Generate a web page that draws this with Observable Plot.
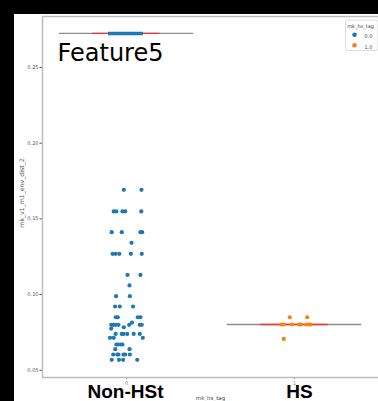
<!DOCTYPE html>
<html><head><meta charset="utf-8">
<script src="https://cdn.jsdelivr.net/npm/d3@7"></script>
<script src="https://cdn.jsdelivr.net/npm/@observablehq/plot@0.6"></script>
<style>
body{margin:0;background:#fff;}
#wrap{width:364px;height:387px;border-left:14px solid #000;border-top:14px solid #000;background:#fff;}
#wrap svg{display:block;}
</style></head><body><div id="wrap"></div>
<script>
const categories = ["Non-HSt", "HS"];
const categoryCodes = [0, 1];
const yTicks = [0.05, 0.10, 0.15, 0.20, 0.25];
const yDomain = [0.0452, 0.2837];
const xDomain = [-0.5, 1.5];
const legendTitle = "mk_hs_tag";
const legendLabels = ["0.0", "1.0"];
const colors = ["#1f77b4", "#ff7f0e"];
const boxCenters = [0.2725, 0.0802];
const whiskerHalf = 0.4;
const boxHalf = 0.2;
const topClusterX = [-0.107, 0.101];
const topClusterY = 0.2725;

const nonHsOffset = [-0.016,0.089,-0.076,-0.061,-0.024,-0.008,0.088,-0.088,-0.028,0.083,0.093,0.030,
  -0.083,-0.065,-0.043,0.026,0.091,0.006,0.083,0.018,-0.062,0.020,-0.068,-0.040,0.039,
  -0.064,-0.052,0.067,0.083,-0.091,-0.077,-0.064,-0.048,-0.016,0.016,0.033,0.079,0.091,
  -0.091,-0.065,-0.028,-0.018,0.004,0.043,0.079,-0.098,-0.076,0.097,-0.060,-0.051,-0.033,-0.024,
  -0.067,0.018,-0.079,-0.055,-0.048,-0.018,-0.008,0.020,-0.088,-0.045,-0.020,0.064];
const nonHsValue = [0.1692,0.1692,0.1549,0.1549,0.1549,0.1549,0.1549,0.1412,0.1412,0.1412,0.1412,0.1342,
  0.1269,0.1269,0.1269,0.1269,0.1269,0.1130,0.1130,0.1060,0.0989,0.0989,0.0921,0.0921,0.0921,
  0.0850,0.0850,0.0850,0.0850,0.0800,0.0800,0.0800,0.0800,0.0784,0.0800,0.0815,0.0800,0.0800,
  0.0775,0.0740,0.0740,0.0740,0.0740,0.0740,0.0740,0.0714,0.0714,0.0714,0.0670,0.0670,0.0670,0.0670,
  0.0639,0.0639,0.0604,0.0604,0.0604,0.0604,0.0604,0.0604,0.0569,0.0569,0.0569,0.0569];
const hsOffset = [-0.028,0.076,-0.079,-0.064,-0.014,0.026,0.036,0.071,0.085,0.095,-0.064];
const hsValue = [0.0850,0.0850,0.0802,0.0802,0.0802,0.0802,0.0802,0.0802,0.0802,0.0802,0.0707];

const points = nonHsOffset.map((o, i) => ({x: categoryCodes[0] + o, y: nonHsValue[i], tag: legendLabels[0]}))
  .concat(hsOffset.map((o, i) => ({x: categoryCodes[1] + o, y: hsValue[i], tag: legendLabels[1]})));

const small = "DejaVu Sans";
const plot = Plot.plot({
  width: 364, height: 387,
  marginLeft: 28, marginRight: 0, marginTop: 2, marginBottom: 24,
  style: {fontFamily: small, background: "white", overflow: "visible"},
  x: {domain: xDomain, axis: null},
  y: {domain: yDomain, axis: null},
  color: {domain: legendLabels, range: colors},
  marks: [
    Plot.axisY({ticks: yTicks, tickFormat: d3.format(".2f"), tickSize: 2.5, tickPadding: 1.5, fontSize: 5, color: "#555", label: null}),
    Plot.axisX({ticks: categoryCodes, tickFormat: d => String(d), tickSize: 2, tickPadding: 1.5, fontSize: 5, color: "#888", label: null}),
    Plot.ruleX([xDomain[0]], {stroke: "#bbb", strokeWidth: 1.5}),
    Plot.ruleY([yDomain[1]], {stroke: "#bbb", strokeWidth: 1.5}),
    Plot.ruleY([yDomain[0]], {stroke: "#bbb", strokeWidth: 1.5}),
    Plot.ruleY(boxCenters, {y: d => d, x1: (d, i) => categoryCodes[i] - whiskerHalf, x2: (d, i) => categoryCodes[i] + whiskerHalf, stroke: "#8c8c8c", strokeWidth: 1.3}),
    Plot.ruleY(boxCenters, {y: d => d, x1: (d, i) => categoryCodes[i] - boxHalf, x2: (d, i) => categoryCodes[i] + boxHalf, stroke: "#ee3333", strokeWidth: 1.3}),
    Plot.ruleY([topClusterY], {x1: topClusterX[0], x2: topClusterX[1], stroke: colors[0], strokeWidth: 3.5}),
    Plot.dot(points, {x: "x", y: "y", fill: "tag", r: 2.1}),
    Plot.text([categories[0]], {x: categoryCodes[0], frameAnchor: "bottom", dx: -1, dy: 20, lineAnchor: "bottom", textAnchor: "middle", fontSize: 19, fontWeight: "bold", fontFamily: "Liberation Sans", fill: "black"}),
    Plot.text([categories[1]], {x: categoryCodes[1], frameAnchor: "bottom", dx: 5, dy: 20, lineAnchor: "bottom", textAnchor: "middle", fontSize: 19, fontWeight: "bold", fontFamily: "Liberation Sans", fill: "black"}),
    Plot.text([legendTitle], {frameAnchor: "bottom", dy: 22, lineAnchor: "bottom", textAnchor: "middle", fontSize: 5.5, fill: "#444"}),
    Plot.text(["mk_v1_m1_env_dist_2"], {frameAnchor: "left", rotate: -90, dx: -20.5, dy: -4, textAnchor: "middle", fontSize: 6.2, fill: "#555"}),
    Plot.text(["Feature5"], {frameAnchor: "top-left", dx: 15, dy: 44, lineAnchor: "bottom", textAnchor: "start", fontSize: 24, fontFamily: "DejaVu Sans", fill: "black"}),
    Plot.frame({fill: "white", stroke: "#ddd", insetLeft: 303, insetTop: 3.5, insetRight: 0.5, insetBottom: 327, rx: 2}),
    Plot.text([legendTitle], {frameAnchor: "top-right", dx: -18, dy: 8, textAnchor: "middle", fontSize: 5, fill: "#444"}),
    ...legendLabels.map((l, i) => Plot.dot([l], {frameAnchor: "top-right", dx: -24, dy: 18.3 + i * 10.4, fill: colors[i], r: 2.3})),
    ...legendLabels.map((l, i) => Plot.text([l], {frameAnchor: "top-right", dx: -14, dy: 18.3 + i * 10.4, textAnchor: "start", fontSize: 5, fill: "#444"}))
  ]
});
document.getElementById("wrap").appendChild(plot);
</script></body></html>
